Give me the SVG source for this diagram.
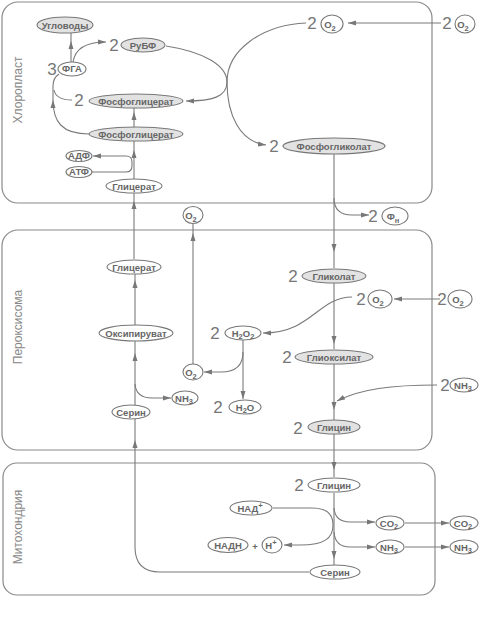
<svg xmlns="http://www.w3.org/2000/svg" width="480" height="620" viewBox="0 0 480 620">
<defs>
<marker id="ah" markerUnits="userSpaceOnUse" markerWidth="8" markerHeight="6" refX="8" refY="3" orient="auto">
<path d="M0,0.5 L8,3 L0,5.5 z" fill="#777"/>
</marker>
<style>
.box{fill:none;stroke:#8a8a8a;stroke-width:1.2}
.cl{font-family:"Liberation Sans",Arial,sans-serif;font-size:12px;fill:#888}
.ln{fill:none;stroke:#7a7a7a;stroke-width:1.1}
.a{marker-end:url(#ah)}
.e{fill:#fff;stroke:#777;stroke-width:1.1}
.s{fill:#e2e2e2;stroke:#777;stroke-width:1.1}
.t{font-family:"Liberation Sans",Arial,sans-serif;font-size:9.5px;font-weight:bold;fill:#666;text-anchor:middle}
.n{font-family:"Liberation Sans",Arial,sans-serif;font-size:17px;fill:#777;text-anchor:middle}
.sub{font-size:7.5px}
</style>
</defs>
<rect width="480" height="620" fill="#fff"/>

<g id="compartments">
<rect class="box" x="2" y="2" width="430" height="201" rx="16"/>
<rect class="box" x="2" y="230" width="430" height="220" rx="16"/>
<rect class="box" x="3" y="463" width="432" height="132" rx="14"/>
<text class="cl" transform="translate(22,90) rotate(-90)" text-anchor="middle">Хлоропласт</text>
<text class="cl" transform="translate(22,327) rotate(-90)" text-anchor="middle">Пероксисома</text>
<text class="cl" transform="translate(22,527) rotate(-90)" text-anchor="middle">Митохондрия</text>
</g>

<g id="connectors">
<path class="ln a" d="M71,62 L71,41"/><path class="ln" d="M71,41 L71,33"/>
<path class="ln a" d="M73,62 C75,48 86,42 106,42"/>
<path class="ln a" d="M166,46 C205,52 227,66 227,82 C227,97 212,101 186,101"/>
<path class="ln a" d="M306,23 C262,25 227,50 227,82 C227,115 240,142 266,145"/>
<path class="ln a" d="M441,23 L348,23"/>
<path class="ln a" d="M89,134 C62,134 53,122 53,100"/>
<path class="ln" d="M53,100 L53,86 Q53,78 59,74"/>
<path class="ln" d="M72,100 Q56,100 54,90"/>
<path class="ln a" d="M134,127 L134,112"/><path class="ln" d="M134,112 L134,108"/>
<path class="ln a" d="M134,179 L134,150"/><path class="ln" d="M134,150 L134,141"/>
<path class="ln a" d="M92,172 L126,172 Q132,172 132,166 L132,162 Q132,156 126,156 L93,156"/>
<path class="ln a" d="M134,259 L134,201"/><path class="ln" d="M134,201 L134,193"/>
<path class="ln a" d="M334,154 L334,252"/><path class="ln" d="M334,252 L334,268"/>
<path class="ln a" d="M334,198 Q334,215 352,215 L369,215"/>
<path class="ln a" d="M193,364 L193,233"/><path class="ln" d="M193,233 L193,224"/>
<path class="ln a" d="M135,325 L135,280"/><path class="ln" d="M135,280 L135,274"/>
<path class="ln a" d="M135,405 L135,353"/><path class="ln" d="M135,353 L135,341"/>
<path class="ln a" d="M135,384 Q136,398 152,398 L171,398"/>
<path class="ln a" d="M334,283 L334,344"/><path class="ln" d="M334,344 L334,349"/>
<path class="ln a" d="M440,299 L394,299"/>
<path class="ln a" d="M352,297 C318,297 312,333 263,333"/>
<path class="ln a" d="M243,340 L243,399"/>
<path class="ln a" d="M243,352 Q243,372 221,372 L204,372"/>
<path class="ln a" d="M334,364 L334,410"/><path class="ln" d="M334,410 L334,420"/>
<path class="ln a" d="M437,385 C392,385 360,389 337,401"/>
<path class="ln a" d="M334,434 L334,470"/><path class="ln" d="M334,470 L334,477"/>
<path class="ln a" d="M334,493 L334,559"/><path class="ln" d="M334,559 L334,565"/>
<path class="ln a" d="M334,508 Q335,522 350,522 L375,522"/>
<path class="ln a" d="M334,532 Q335,547 350,547 L375,547"/>
<path class="ln a" d="M273,508 L312,508 C328,508 333,515 333,525 C333,538 325,545 300,545 L284,545"/>
<path class="ln a" d="M405,523 L449,523"/>
<path class="ln a" d="M405,547 L449,547"/>
<path class="ln a" d="M309,572 L160,572 Q135,572 135,547 L135,440"/><path class="ln" d="M135,440 L135,419"/>
</g>

<g id="n-uglevody"><ellipse class="s" cx="65" cy="25" rx="28" ry="8"/><text class="t" x="65" y="28.5">Угловоды</text></g>
<g id="n-fga"><text class="n" x="52" y="75">3</text><ellipse class="e" cx="72" cy="69" rx="14" ry="7"/><text class="t" x="72" y="72" font-size="8.5">ФГА</text></g>
<g id="n-rubf"><text class="n" x="114" y="51">2</text><ellipse class="s" cx="143" cy="45" rx="22" ry="7"/><text class="t" x="143" y="48.5" font-size="10">РуБФ</text></g>
<g id="n-fosfoglicerat1"><text class="n" x="79" y="106">2</text><ellipse class="s" cx="136" cy="101" rx="47" ry="7"/><text class="t" x="136" y="104.5" font-size="10">Фосфоглицерат</text></g>
<g id="n-fosfoglicerat2"><ellipse class="s" cx="136" cy="134" rx="47" ry="7"/><text class="t" x="136" y="137.5" font-size="10">Фосфоглицерат</text></g>
<g id="n-adf"><ellipse class="e" cx="79" cy="156" rx="13" ry="5.5"/><text class="t" x="79" y="159" font-size="8">АДФ</text></g>
<g id="n-atf"><ellipse class="e" cx="79" cy="172" rx="13" ry="5.5"/><text class="t" x="79" y="175" font-size="8">АТФ</text></g>
<g id="n-glicerat-chl"><ellipse class="e" cx="134" cy="186" rx="28" ry="7"/><text class="t" x="134" y="189.5">Глицерат</text></g>
<g id="n-o2-chl"><text class="n" x="312" y="29">2</text><ellipse class="e" cx="332" cy="24" rx="11" ry="9"/><text class="t" x="330" y="28" font-weight="normal" font-size="11">O<tspan class="sub" dy="3">2</tspan></text></g>
<g id="n-o2-out1"><text class="n" x="447" y="29">2</text><ellipse class="e" cx="465" cy="24" rx="10" ry="9"/><text class="t" x="463" y="28" font-weight="normal" font-size="11">O<tspan class="sub" dy="3">2</tspan></text></g>
<g id="n-fosfoglikolat"><text class="n" x="274" y="152">2</text><ellipse class="s" cx="334" cy="146" rx="51" ry="8"/><text class="t" x="334" y="149.5" font-size="10.5">Фосфогликолат</text></g>
<g id="n-fn"><text class="n" x="373" y="222">2</text><ellipse class="e" cx="395" cy="216" rx="13" ry="9"/><text class="t" x="393" y="220" font-weight="normal" font-size="11">Ф<tspan class="sub" dy="3">н</tspan></text></g>
<g id="n-o2-top"><ellipse class="e" cx="193" cy="215" rx="10" ry="8.5"/><text class="t" x="191" y="219" font-weight="normal" font-size="11">O<tspan class="sub" dy="3">2</tspan></text></g>

<g id="n-glicerat-per"><ellipse class="e" cx="134" cy="267" rx="27" ry="7"/><text class="t" x="134" y="270.5">Глицерат</text></g>
<g id="n-oksipiruvat"><ellipse class="e" cx="136" cy="333" rx="37" ry="8"/><text class="t" x="136" y="336.5" font-size="10">Оксипируват</text></g>
<g id="n-serin-per"><ellipse class="e" cx="131" cy="412" rx="19" ry="7"/><text class="t" x="131" y="415.5">Серин</text></g>
<g id="n-nh3-per"><ellipse class="e" cx="185" cy="398" rx="13" ry="7"/><text class="t" x="184" y="401.5" font-weight="normal" font-size="10">NH<tspan class="sub" dy="2.5">3</tspan></text></g>
<g id="n-o2-per"><ellipse class="e" cx="193" cy="372" rx="10" ry="8"/><text class="t" x="191" y="376" font-weight="normal" font-size="11">O<tspan class="sub" dy="3">2</tspan></text></g>
<g id="n-h2o2"><text class="n" x="215" y="339">2</text><ellipse class="e" cx="243" cy="333" rx="18" ry="7"/><text class="t" x="243" y="336.5" font-weight="normal" font-size="10">H<tspan class="sub" dy="2.5">2</tspan><tspan dy="-2.5">O</tspan><tspan class="sub" dy="2.5">2</tspan></text></g>
<g id="n-h2o"><text class="n" x="218" y="413">2</text><ellipse class="e" cx="245" cy="407" rx="16" ry="7"/><text class="t" x="245" y="410.5" font-weight="normal" font-size="10">H<tspan class="sub" dy="2.5">2</tspan><tspan dy="-2.5">O</tspan></text></g>
<g id="n-glikolat"><text class="n" x="293" y="282">2</text><ellipse class="s" cx="334" cy="276" rx="32" ry="7"/><text class="t" x="334" y="279.5" font-size="10">Гликолат</text></g>
<g id="n-o2-per2"><text class="n" x="361" y="305">2</text><ellipse class="e" cx="380" cy="299" rx="12" ry="9"/><text class="t" x="378" y="303" font-weight="normal" font-size="11">O<tspan class="sub" dy="3">2</tspan></text></g>
<g id="n-o2-out2"><text class="n" x="442" y="305">2</text><ellipse class="e" cx="460" cy="299" rx="12" ry="9"/><text class="t" x="458" y="303" font-weight="normal" font-size="11">O<tspan class="sub" dy="3">2</tspan></text></g>
<g id="n-glioksilat"><text class="n" x="287" y="363">2</text><ellipse class="s" cx="334" cy="357" rx="39" ry="7"/><text class="t" x="334" y="360.5" font-size="10">Глиоксилат</text></g>
<g id="n-glicin-per"><text class="n" x="298" y="434">2</text><ellipse class="s" cx="334" cy="427" rx="26" ry="7"/><text class="t" x="334" y="430.5" font-size="10">Глицин</text></g>
<g id="n-nh3-out"><text class="n" x="445" y="391">2</text><ellipse class="e" cx="464" cy="385" rx="14" ry="7"/><text class="t" x="463" y="388.5" font-weight="normal" font-size="10">NH<tspan class="sub" dy="2.5">3</tspan></text></g>

<g id="n-glicin-mit"><text class="n" x="299" y="491">2</text><ellipse class="e" cx="334" cy="485" rx="26" ry="7"/><text class="t" x="334" y="488.5" font-size="10">Глицин</text></g>
<g id="n-nad"><ellipse class="e" cx="251" cy="508" rx="21" ry="7"/><text class="t" x="250" y="511.5" font-weight="normal" font-size="10">НАД<tspan class="sub" dy="-4">+</tspan></text></g>
<g id="n-nadh"><ellipse class="e" cx="228" cy="545" rx="20" ry="7.5"/><text class="t" x="228" y="548.5" font-weight="normal" font-size="10">НАДН</text></g>
<g id="n-plus"><text class="t" x="255" y="550" font-weight="normal" font-size="14">+</text></g>
<g id="n-hplus"><ellipse class="e" cx="272" cy="545" rx="10" ry="8"/><text class="t" x="271" y="548.5" font-weight="normal" font-size="10">H<tspan class="sub" dy="-4">+</tspan></text></g>
<g id="n-co2-mit"><ellipse class="e" cx="390" cy="523" rx="14" ry="7"/><text class="t" x="389" y="526.5" font-weight="normal" font-size="10">CO<tspan class="sub" dy="2.5">2</tspan></text></g>
<g id="n-co2-out"><ellipse class="e" cx="464" cy="523" rx="14" ry="7"/><text class="t" x="463" y="526.5" font-weight="normal" font-size="10">CO<tspan class="sub" dy="2.5">2</tspan></text></g>
<g id="n-nh3-mit"><ellipse class="e" cx="390" cy="547" rx="14" ry="7"/><text class="t" x="389" y="550.5" font-weight="normal" font-size="10">NH<tspan class="sub" dy="2.5">3</tspan></text></g>
<g id="n-nh3-out2"><ellipse class="e" cx="464" cy="547" rx="14" ry="7"/><text class="t" x="463" y="550.5" font-weight="normal" font-size="10">NH<tspan class="sub" dy="2.5">3</tspan></text></g>
<g id="n-serin-mit"><ellipse class="e" cx="335" cy="572" rx="25" ry="7"/><text class="t" x="335" y="575.5" font-size="10">Серин</text></g>
</svg>
